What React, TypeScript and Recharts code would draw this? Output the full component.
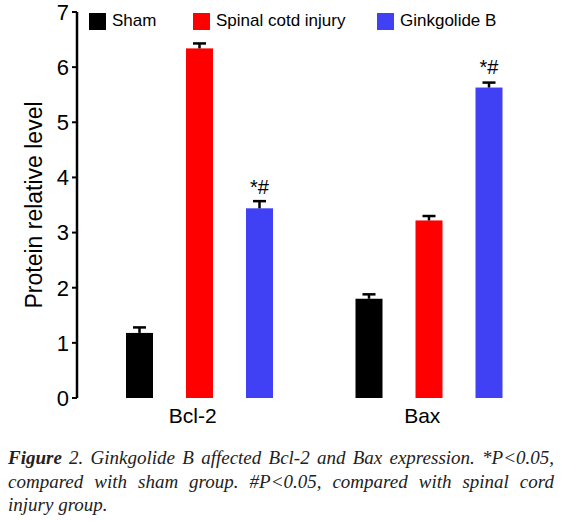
import React from 'react';
import {
  BarChart,
  Bar,
  XAxis,
  YAxis,
  LabelList,
  Label,
} from 'recharts';

const categories = ['Bcl-2', 'Bax'];
const shamValues = [1.18, 1.8];
const shamErrors = [0.1, 0.08];
const injuryValues = [6.34, 3.22];
const injuryErrors = [0.09, 0.08];
const ginkgolideValues = [3.44, 5.63];
const ginkgolideErrors = [0.13, 0.09];
const significance = ['*#', '*#'];
const yTicks = [0, 1, 2, 3, 4, 5, 6, 7];
// minor marks along the x axis, in group units (each group = 1)
const xTickMarks = [0.38, 0.67, 0.94, 1.39, 1.67, 2.0];

const series = [
  { key: 'sham', name: 'Sham', color: '#000000' },
  { key: 'injury', name: 'Spinal cotd injury', color: '#ff0000' },
  { key: 'gb', name: 'Ginkgolide B', color: '#4040f5' },
];

const data = categories.map((name, i) => ({
  name,
  sham: shamValues[i],
  shamErr: shamErrors[i],
  injury: injuryValues[i],
  injuryErr: injuryErrors[i],
  gb: ginkgolideValues[i],
  gbErr: ginkgolideErrors[i],
  sig: significance[i],
}));

const font = 'Liberation Sans, Arial, sans-serif';

// bar with an upward-only SEM whisker, scaled from the bar's own pixel height
function barWithError(errKey: string) {
  return (props: any) => {
    const { x, y, width, height, fill, payload, value } = props;
    const v = Array.isArray(value) ? value[1] - value[0] : value;
    const ppu = v ? height / v : 0;
    const top = y - payload[errKey] * ppu;
    const cx = x + width / 2;
    return (
      <g>
        <rect x={x} y={y} width={width} height={height} fill={fill} />
        <line x1={cx} x2={cx} y1={y} y2={top} stroke="#000" strokeWidth={2.5} />
        <line x1={cx - 6.5} x2={cx + 6.5} y1={top} y2={top} stroke="#000" strokeWidth={2.5} />
      </g>
    );
  };
}

function ChartLegend() {
  const lefts = [89, 193, 377];
  return (
    <>
      {series.map((s, i) => (
        <div
          key={s.key}
          style={{
            position: 'absolute',
            left: lefts[i],
            top: 11,
            display: 'flex',
            alignItems: 'center',
            fontFamily: font,
            fontSize: 17,
            color: '#000',
          }}
        >
          <span style={{ width: 17, height: 17, background: s.color, marginRight: 6 }} />
          <span>{s.name}</span>
        </div>
      ))}
    </>
  );
}

export default function App() {
  return (
    <div style={{ position: 'absolute', left: 0, top: 0, width: 567, height: 521, background: '#fff' }}>
      <BarChart
        width={567}
        height={430}
        data={data}
        margin={{ top: 12, right: 30, bottom: 0, left: 0 }}
        barSize={27}
        barGap={33}
      >
        <XAxis
          xAxisId="marks"
          type="number"
          domain={[0, 2]}
          ticks={xTickMarks}
          tick={false}
          height={0}
          axisLine={{ stroke: '#000', strokeWidth: 2.5 }}
          tickLine={{ stroke: '#000', strokeWidth: 2 }}
          tickSize={5}
        />
        <XAxis
          dataKey="name"
          height={32}
          padding={{ left: 8, right: -7 }}
          axisLine={false}
          tickLine={false}
          tick={{ fill: '#000', fontSize: 21, fontFamily: font, dx: -7 }}
          tickMargin={4}
        />
        <YAxis
          width={77}
          domain={[0, 7]}
          ticks={yTicks}
          interval={0}
          axisLine={{ stroke: '#000', strokeWidth: 2.5 }}
          tickLine={{ stroke: '#000', strokeWidth: 2 }}
          tickSize={5}
          tickMargin={3}
          tick={{ fill: '#000', fontSize: 22, fontFamily: font }}
        >
          <Label
            value="Protein relative level"
            angle={-90}
            position="insideLeft"
            offset={34}
            style={{ textAnchor: 'middle', fill: '#000', fontSize: 23, fontFamily: font }}
          />
        </YAxis>
        {series.map((s) => (
          <Bar
            key={s.key}
            dataKey={s.key}
            name={s.name}
            fill={s.color}
            isAnimationActive={false}
            shape={barWithError(`${s.key}Err`)}
          >
            {s.key === 'gb' && (
              <LabelList
                dataKey="sig"
                position="top"
                offset={14}
                style={{ fill: '#000', fontSize: 20, fontFamily: font }}
              />
            )}
          </Bar>
        ))}
      </BarChart>
      <ChartLegend />
      <div
        style={{
          position: 'absolute',
          left: 8,
          top: 446,
          width: 546,
          fontFamily: 'Liberation Serif, Times New Roman, serif',
          fontStyle: 'italic',
          fontSize: 19,
          lineHeight: '23.5px',
          textAlign: 'justify',
          color: '#222',
        }}
      >
        <b>Figure</b> 2. Ginkgolide B affected Bcl-2 and Bax expression. *P&lt;0.05, compared with sham group.
        #P&lt;0.05, compared with spinal cord injury group.
      </div>
    </div>
  );
}
